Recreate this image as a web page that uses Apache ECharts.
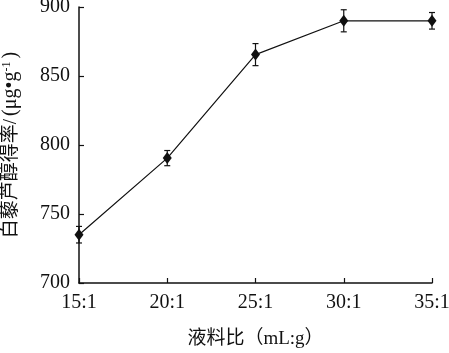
<!DOCTYPE html>
<html>
<head>
<meta charset="utf-8">
<script src="https://cdn.jsdelivr.net/npm/echarts@6/dist/echarts.min.js"></script>
<style>
  html, body { margin: 0; padding: 0; background: #fff; }
  #chart { width: 449px; height: 353px; }
</style>
</head>
<body>
<div id="chart"></div>
<script>
const ratios = ['15:1', '20:1', '25:1', '30:1', '35:1']
const yieldVals = [735, 790.5, 865.5, 890, 890]
const errVals = [6, 5.5, 8, 8, 6]
const yTicks = [700, 750, 800, 850, 900]

const FONT = '"Liberation Serif", "Noto Sans CJK SC", serif'
const INK = '#111'

const chart = echarts.init(document.getElementById('chart'))

chart.setOption({
  animation: false,
  grid: { left: 79, right: 17, top: 7, bottom: 70, containLabel: false, outerBoundsMode: 'none' },
  xAxis: {
    type: 'category',
    data: ratios,
    boundaryGap: false,
    name: '液料比（mL:g）',
    nameLocation: 'middle',
    nameGap: 47,
    nameTextStyle: { fontFamily: FONT, fontSize: 19, color: INK },
    axisLine: { lineStyle: { color: INK, width: 1.5 } },
    axisTick: { inside: true, length: 5, lineStyle: { color: INK, width: 1.2 } },
    axisLabel: { fontFamily: FONT, fontSize: 20, color: INK, margin: 10 },
    splitLine: { show: false },
  },
  yAxis: {
    type: 'value',
    min: yTicks[0],
    max: yTicks[yTicks.length - 1],
    interval: 50,
    name: '{cn|白藜芦醇得率/}{lt|(μg•g}{sup|-1}{lt|)}',
    nameLocation: 'middle',
    nameGap: 58,
    nameRotate: 90,
    nameTextStyle: {
      fontFamily: FONT, fontSize: 19, color: INK,
      rich: {
        cn: { fontFamily: FONT, fontSize: 19, color: INK },
        lt: { fontFamily: FONT, fontSize: 20, color: INK, padding: [0, 0, 0, 3] },
        sup: { fontFamily: FONT, fontSize: 12, color: INK, verticalAlign: 'top', padding: [0, 0, 8, 0] },
      },
    },
    axisLine: { show: true, lineStyle: { color: INK, width: 1.5 } },
    axisTick: { show: true, inside: true, length: 5, lineStyle: { color: INK, width: 1.2 } },
    axisLabel: { fontFamily: FONT, fontSize: 20, color: INK, margin: 9 },
    splitLine: { show: false },
  },
  series: [
    {
      type: 'line',
      data: yieldVals,
      symbol: 'diamond',
      symbolSize: [9, 12],
      itemStyle: { color: INK },
      lineStyle: { color: INK, width: 1.2 },
      z: 3,
    },
    {
      type: 'custom',
      data: yieldVals.map((v, i) => [i, v - errVals[i], v + errVals[i]]),
      renderItem: (params, api) => {
        const lo = api.coord([api.value(0), api.value(1)])
        const hi = api.coord([api.value(0), api.value(2)])
        const w = 3
        const style = { stroke: INK, lineWidth: 1.2 }
        return {
          type: 'group',
          children: [
            { type: 'line', shape: { x1: hi[0], y1: hi[1], x2: lo[0], y2: lo[1] }, style },
            { type: 'line', shape: { x1: hi[0] - w, y1: hi[1], x2: hi[0] + w, y2: hi[1] }, style },
            { type: 'line', shape: { x1: lo[0] - w, y1: lo[1], x2: lo[0] + w, y2: lo[1] }, style },
          ],
        }
      },
      z: 4,
    },
  ],
})
</script>
</body>
</html>
